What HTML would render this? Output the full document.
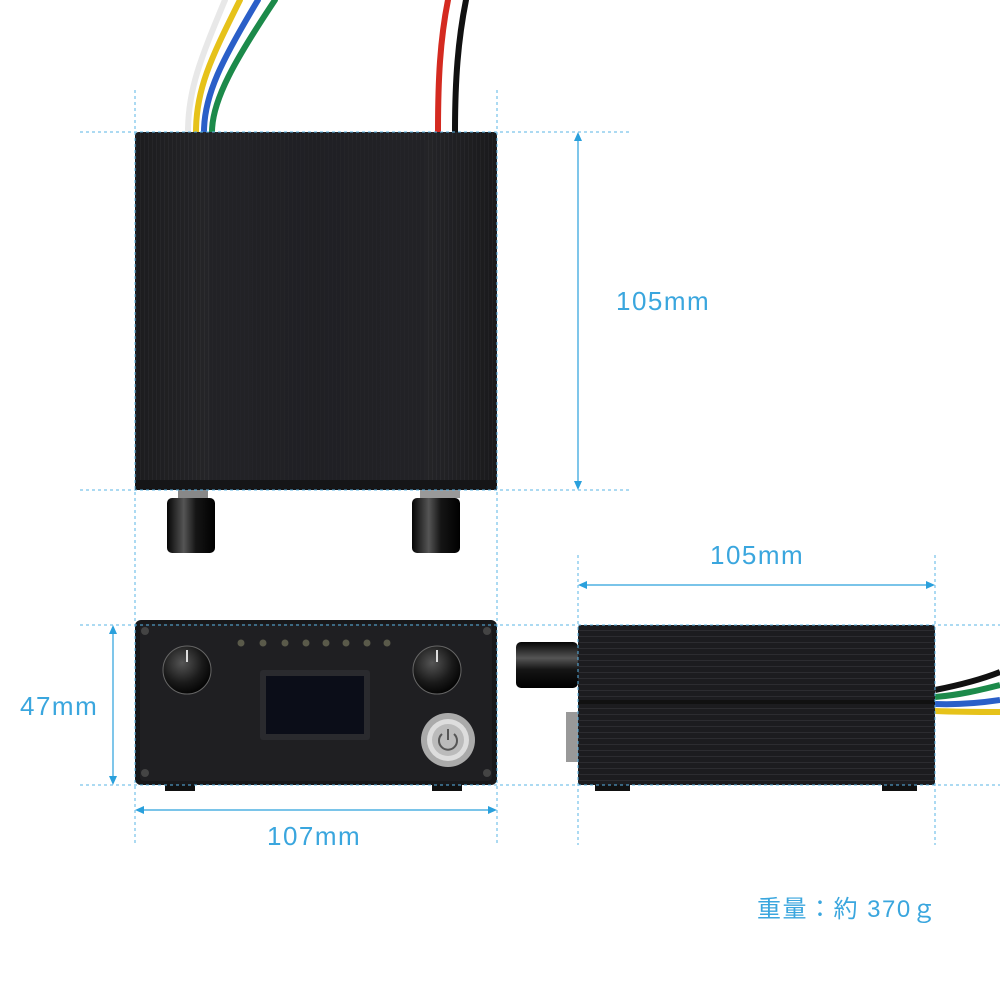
<!DOCTYPE html>
<html><head><meta charset="utf-8"><style>
html,body{margin:0;padding:0;background:#fff;}
svg{display:block}
text{font-family:"Liberation Sans","Noto Sans CJK JP",sans-serif;fill:#3aa6de;letter-spacing:1.5px;}
</style></head><body>
<svg width="1000" height="1000" viewBox="0 0 1000 1000" xmlns="http://www.w3.org/2000/svg">
<defs>
<linearGradient id="box" x1="0" x2="1" y1="0" y2="0">
<stop offset="0" stop-color="#1a1a1c"/><stop offset="0.2" stop-color="#2a2a2d"/><stop offset="0.5" stop-color="#202023"/><stop offset="0.8" stop-color="#2a2a2d"/><stop offset="1" stop-color="#161618"/>
</linearGradient>
<pattern id="ridgeV" width="4" height="10" patternUnits="userSpaceOnUse"><rect width="4" height="10" fill="#1e1e21"/><rect width="1" height="10" fill="#2e2e32"/></pattern>
<pattern id="ridgeH" width="10" height="6" patternUnits="userSpaceOnUse"><rect width="10" height="6" fill="#1c1c1f"/><rect width="10" height="1" fill="#2c2c30"/></pattern>
<radialGradient id="knob" cx="0.4" cy="0.35" r="0.7"><stop offset="0" stop-color="#555"/><stop offset="0.6" stop-color="#1a1a1a"/><stop offset="1" stop-color="#000"/></radialGradient>
<linearGradient id="cyl" x1="0" x2="1"><stop offset="0" stop-color="#050505"/><stop offset="0.35" stop-color="#555"/><stop offset="0.6" stop-color="#151515"/><stop offset="1" stop-color="#000"/></linearGradient>
<linearGradient id="cylv" x1="0" x2="0" y1="0" y2="1"><stop offset="0" stop-color="#050505"/><stop offset="0.35" stop-color="#555"/><stop offset="0.6" stop-color="#151515"/><stop offset="1" stop-color="#000"/></linearGradient>
</defs>

<g fill="none" stroke-width="6" stroke-linecap="round">
<path d="M188 132 C188 90 200 60 225 0" stroke="#e8e8e8"/>
<path d="M196 132 C196 90 210 60 240 0" stroke="#e6c21a"/>
<path d="M204 132 C204 95 222 60 258 0" stroke="#2a5fc8"/>
<path d="M212 132 C212 100 235 60 275 0" stroke="#1c8a4a"/>
<path d="M438 132 C438 80 440 40 448 0" stroke="#d42a20"/>
<path d="M455 132 C455 80 458 40 466 0" stroke="#111"/>
</g>

<rect x="135" y="132" width="362" height="358" rx="4" fill="url(#ridgeV)"/>
<rect x="135" y="132" width="362" height="358" rx="4" fill="url(#box)" opacity="0.55"/>
<rect x="210" y="140" width="215" height="340" fill="#222226" opacity="0.6"/>
<rect x="135" y="480" width="362" height="10" fill="#151517"/>
<rect x="178" y="490" width="30" height="8" fill="#888"/>
<rect x="420" y="490" width="40" height="8" fill="#999"/>
<rect x="167" y="498" width="48" height="55" rx="5" fill="url(#cyl)"/>
<rect x="412" y="498" width="48" height="55" rx="5" fill="url(#cyl)"/>

<rect x="135" y="620" width="362" height="165" rx="6" fill="#18181a"/>
<rect x="140" y="624" width="352" height="157" rx="4" fill="#1f1f22"/>
<circle cx="145" cy="631" r="4" fill="#444"/><circle cx="487" cy="631" r="4" fill="#444"/>
<circle cx="145" cy="773" r="4" fill="#444"/><circle cx="487" cy="773" r="4" fill="#444"/>
<rect x="165" y="785" width="30" height="6" fill="#111"/><rect x="432" y="785" width="30" height="6" fill="#111"/>
<circle cx="187" cy="670" r="24" fill="url(#knob)" stroke="#666" stroke-width="1"/>
<line x1="187" y1="650" x2="187" y2="662" stroke="#ddd" stroke-width="2"/>
<circle cx="437" cy="670" r="24" fill="url(#knob)" stroke="#666" stroke-width="1"/>
<line x1="437" y1="650" x2="437" y2="662" stroke="#ddd" stroke-width="2"/>
<g fill="#5a5a4a"><circle cx="241" cy="643" r="3.5"/><circle cx="263" cy="643" r="3.5"/><circle cx="285" cy="643" r="3.5"/><circle cx="306" cy="643" r="3.5"/><circle cx="326" cy="643" r="3.5"/><circle cx="346" cy="643" r="3.5"/><circle cx="367" cy="643" r="3.5"/><circle cx="387" cy="643" r="3.5"/></g>
<rect x="260" y="670" width="110" height="70" rx="3" fill="#2a2a2e"/>
<rect x="266" y="676" width="98" height="58" fill="#0b0d18"/>
<circle cx="448" cy="740" r="27" fill="#aaa"/>
<circle cx="448" cy="740" r="21" fill="#ddd"/>
<circle cx="448" cy="740" r="16" fill="#bbb"/>
<path d="M442 734 A9 9 0 1 0 454 734" fill="none" stroke="#555" stroke-width="2"/>
<line x1="448" y1="729" x2="448" y2="740" stroke="#555" stroke-width="2"/>

<rect x="516" y="642" width="62" height="46" rx="5" fill="url(#cylv)"/>
<rect x="566" y="712" width="12" height="50" fill="#999"/>
<rect x="578" y="625" width="357" height="160" rx="3" fill="url(#ridgeH)"/>
<rect x="578" y="700" width="357" height="4" fill="#111"/>
<rect x="595" y="785" width="35" height="6" fill="#111"/><rect x="882" y="785" width="35" height="6" fill="#111"/>
<g fill="none" stroke-width="6">
<path d="M935 690 C960 685 980 680 1000 672" stroke="#111"/>
<path d="M935 697 C960 695 980 690 1000 685" stroke="#1c8a4a"/>
<path d="M935 704 C960 705 980 703 1000 700" stroke="#2a5fc8"/>
<path d="M935 711 C960 712 980 712 1000 712" stroke="#e6c21a"/>
</g>

<g stroke="#5ab4e6" stroke-width="1" stroke-dasharray="3,3" fill="none">
<line x1="80" y1="132" x2="630" y2="132"/>
<line x1="80" y1="490" x2="630" y2="490"/>
<line x1="135" y1="90" x2="135" y2="845"/>
<line x1="497" y1="90" x2="497" y2="845"/>
<line x1="80" y1="625" x2="1000" y2="625"/>
<line x1="80" y1="785" x2="1000" y2="785"/>
<line x1="578" y1="555" x2="578" y2="845"/>
<line x1="935" y1="555" x2="935" y2="845"/>
</g>
<g stroke="#2aa0dc" stroke-width="1.2" fill="#2aa0dc">
<line x1="578" y1="136" x2="578" y2="486"/>
<path d="M578 132 l-4 9 h8z M578 490 l-4 -9 h8z" stroke="none"/>
<line x1="113" y1="629" x2="113" y2="781"/>
<path d="M113 625 l-4 9 h8z M113 785 l-4 -9 h8z" stroke="none"/>
<line x1="139" y1="810" x2="493" y2="810"/>
<path d="M135 810 l9 -4 v8z M497 810 l-9 -4 v8z" stroke="none"/>
<line x1="582" y1="585" x2="931" y2="585"/>
<path d="M578 585 l9 -4 v8z M935 585 l-9 -4 v8z" stroke="none"/>
</g>
<text x="616" y="310" font-size="26">105mm</text>
<text x="710" y="564" font-size="26">105mm</text>
<text x="20" y="715" font-size="26">47mm</text>
<text x="267" y="845" font-size="26">107mm</text>
<text x="757" y="917" font-size="24">重量：約 370ｇ</text>
</svg>
</body></html>
